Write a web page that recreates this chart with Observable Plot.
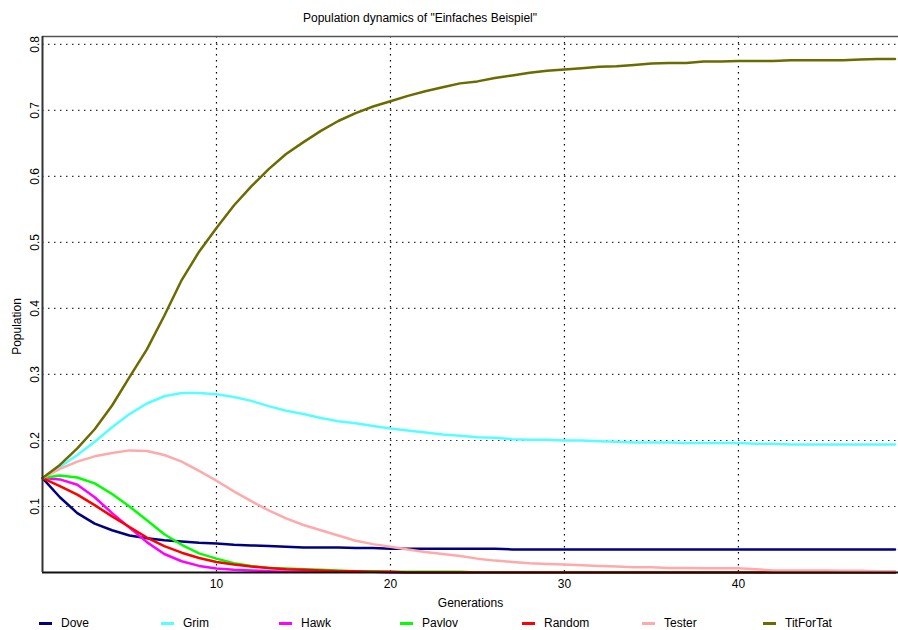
<!DOCTYPE html>
<html>
<head>
<meta charset="utf-8">
<script src="https://cdn.jsdelivr.net/npm/d3@7"></script>
<script src="https://cdn.jsdelivr.net/npm/@observablehq/plot@0.6"></script>
<style>
  html, body { margin: 0; padding: 0; background: #fff; }
  body { font-family: "Liberation Sans", Arial, Helvetica, sans-serif; color: #000; }
  #wrap { position: relative; width: 898px; height: 630px; overflow: hidden; }
  #title { position: absolute; top: 11px; left: 0; width: 840px; text-align: center; font-size: 12px; line-height: 14px; }
  #chart { position: absolute; top: 28px; left: 0; }
  #legend { position: absolute; top: 615px; left: 0; width: 898px; height: 16px; font-size: 12px; line-height: 16px; }
  .item { position: absolute; top: 0; height: 16px; white-space: nowrap; }
  .sw { position: absolute; top: 7px; left: 0; width: 13px; height: 3px; }
  .lb { position: absolute; top: 0; left: 22px; }
</style>
</head>
<body>
<div id="wrap">
  <div id="title">Population dynamics of "Einfaches Beispiel"</div>
  <div id="chart"></div>
  <div id="legend"></div>
</div>
<script>
// ---- data ----
const titleText = 'Population dynamics of "Einfaches Beispiel"';
const xLabel = "Generations";
const yLabel = "Population";
const strategies = ["Dove", "Grim", "Hawk", "Pavlov", "Random", "Tester", "TitForTat"];
const colors = ["#000080", "#55ffff", "#ff00ff", "#00ff00", "#ff0000", "#ffaaaa", "#6b6b00"];
const generations = d3.range(0, 50);
const xTicks = [10, 20, 30, 40];
const yTicks = [0.1, 0.2, 0.3, 0.4, 0.5, 0.6, 0.7, 0.8];

const dove = [0.143,0.114,0.090,0.074,0.064,0.056,0.052,0.049,0.047,0.045,
  0.044,0.042,0.041,0.040,0.039,0.038,0.038,0.038,0.037,0.037,
  0.036,0.036,0.036,0.036,0.036,0.036,0.036,0.035,0.035,0.035,
  0.035,0.035,0.035,0.035,0.035,0.035,0.035,0.035,0.035,0.035,
  0.035,0.035,0.035,0.035,0.035,0.035,0.035,0.035,0.035,0.035];
const grim = [0.143,0.160,0.178,0.198,0.220,0.240,0.256,0.267,0.272,0.272,
  0.270,0.266,0.260,0.252,0.245,0.240,0.234,0.229,0.226,0.222,
  0.218,0.215,0.212,0.209,0.207,0.205,0.204,0.202,0.201,0.201,
  0.200,0.200,0.199,0.198,0.197,0.197,0.197,0.196,0.196,0.196,
  0.196,0.195,0.195,0.194,0.194,0.194,0.194,0.194,0.194,0.194];
const hawk = [0.143,0.141,0.133,0.114,0.090,0.068,0.046,0.028,0.017,0.010,
  0.006,0.004,0.003,0.002,0.001,0.001,0.001,0.001,0.001,0.001,
  0,0,0,0,0,0,0,0,0,0,
  0,0,0,0,0,0,0,0,0,0,
  0,0,0,0,0,0,0,0,0,0];
const pavlov = [0.143,0.147,0.144,0.135,0.119,0.100,0.079,0.058,0.042,0.029,
  0.021,0.014,0.010,0.007,0.006,0.005,0.004,0.003,0.002,0.002,
  0.001,0.001,0.001,0.001,0.001,0,0,0,0,0,
  0,0,0,0,0,0,0,0,0,0,
  0,0,0,0,0,0,0,0,0,0];
const random = [0.143,0.131,0.118,0.102,0.085,0.069,0.053,0.040,0.030,0.022,
  0.016,0.012,0.009,0.007,0.005,0.004,0.003,0.002,0.002,0.001,
  0.001,0,0,0,0,0,0,0,0,0,
  0,0,0,0,0,0,0,0,0,0,
  0,0,0,0,0,0,0,0,0,0];
const tester = [0.143,0.157,0.168,0.176,0.181,0.185,0.184,0.178,0.168,0.154,
  0.139,0.123,0.108,0.094,0.082,0.072,0.064,0.056,0.048,0.043,
  0.039,0.035,0.031,0.028,0.025,0.021,0.018,0.016,0.014,0.013,
  0.012,0.011,0.010,0.009,0.008,0.0078,0.007,0.007,0.0066,0.0065,
  0.0065,0.005,0.003,0.003,0.003,0.003,0.0025,0.0025,0.002,0.002];
const titForTat = [0.143,0.163,0.188,0.217,0.253,0.296,0.338,0.389,0.443,0.486,
  0.522,0.556,0.585,0.611,0.634,0.652,0.669,0.684,0.696,0.706,
  0.714,0.722,0.729,0.735,0.741,0.744,0.749,0.753,0.757,0.760,
  0.762,0.764,0.766,0.767,0.769,0.771,0.772,0.772,0.774,0.774,
  0.775,0.775,0.775,0.776,0.776,0.776,0.776,0.777,0.778,0.778];

const seriesValues = [dove, grim, hawk, pavlov, random, tester, titForTat];

// ---- build table ----
const rows = [];
strategies.forEach((s, i) => {
  seriesValues[i].forEach((v, j) => rows.push({strategy: s, gen: generations[j], value: v}));
});

const dotted = "1.5,4.5";

const chart = Plot.plot({
  width: 898,
  height: 584,
  marginTop: 8,
  marginBottom: 40,
  marginLeft: 42,
  marginRight: 0,
  style: {fontFamily: '"Liberation Sans", Arial, Helvetica, sans-serif', fontSize: "12px", color: "#000", background: "#fff"},
  x: {domain: [0, 49.2], label: null},
  y: {domain: [0, 0.812], label: null, axis: null},
  color: {domain: strategies, range: colors},
  marks: [
    Plot.gridY(yTicks, {stroke: "#000", strokeOpacity: 0.8, strokeDasharray: dotted, strokeWidth: 1.2}),
    Plot.gridX(xTicks, {stroke: "#000", strokeOpacity: 1, strokeDasharray: dotted, strokeWidth: 1.2}),
    Plot.line(rows, {x: "gen", y: "value", z: "strategy", stroke: "strategy", strokeWidth: 2.5, strokeLinejoin: "round"}),
    Plot.ruleY([0.812], {stroke: "#555", strokeWidth: 1.5}),
    Plot.ruleY([0], {stroke: "#111", strokeWidth: 2}),
    Plot.ruleX([0], {stroke: "#333", strokeWidth: 2}),
    Plot.axisX(xTicks, {tickSize: 0, tickPadding: 7, label: null, fontSize: 12}),
    Plot.text(yTicks, {y: d => d, text: d => String(d), frameAnchor: "left", dx: -7, rotate: -90, textAnchor: "middle", lineAnchor: "middle", fontSize: 12, fill: "#000"}),
    Plot.text([xLabel], {frameAnchor: "bottom", dy: 31, lineAnchor: "middle", fontSize: 12, fill: "#000"}),
    Plot.text([yLabel], {frameAnchor: "left", dx: -25, dy: 22, rotate: -90, textAnchor: "middle", lineAnchor: "middle", fontSize: 12, fill: "#000"})
  ]
});
document.getElementById("chart").appendChild(chart);
document.getElementById("title").textContent = titleText;

// ---- legend ----
const legendX = [39, 161, 279, 400, 522, 642, 763];
const legend = document.getElementById("legend");
strategies.forEach((s, i) => {
  const item = document.createElement("div");
  item.className = "item";
  item.style.left = legendX[i] + "px";
  const sw = document.createElement("span");
  sw.className = "sw";
  sw.style.background = colors[i];
  const lb = document.createElement("span");
  lb.className = "lb";
  lb.textContent = s;
  item.appendChild(sw);
  item.appendChild(lb);
  legend.appendChild(item);
});
</script>
</body>
</html>
